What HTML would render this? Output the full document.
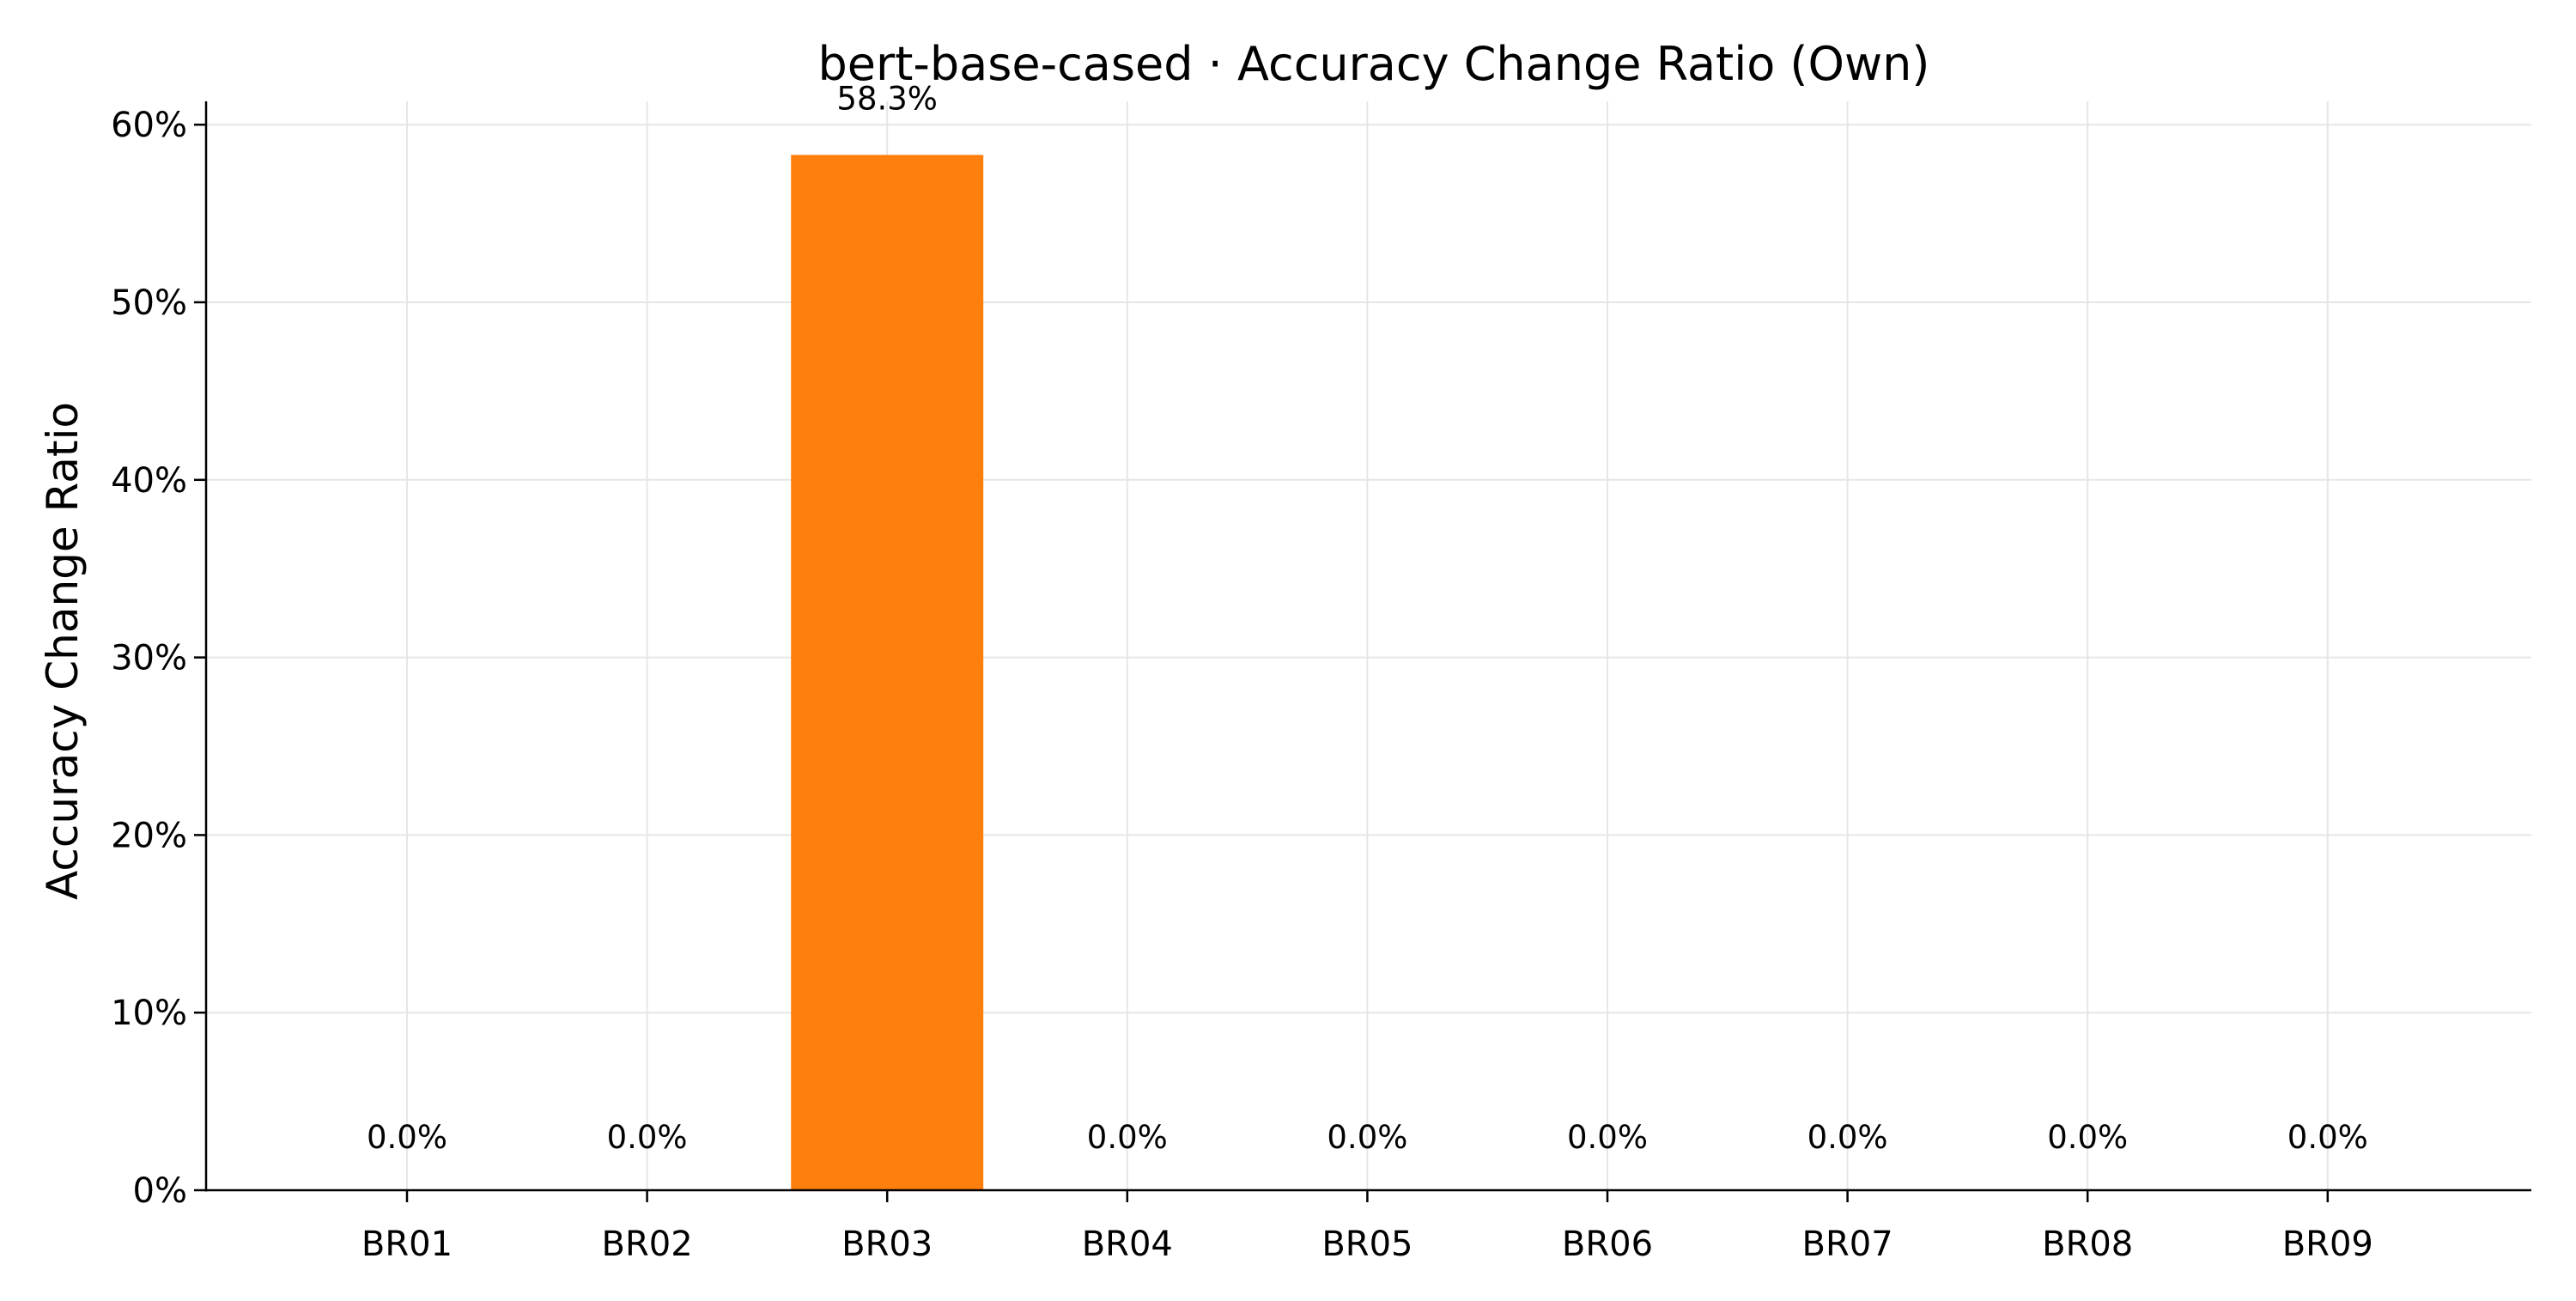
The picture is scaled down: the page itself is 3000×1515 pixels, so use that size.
<!DOCTYPE html>
<html><head><meta charset="utf-8"><style>
html,body{margin:0;padding:0;background:#fff}
svg{display:block;font-family:"DejaVu Sans","Liberation Sans",sans-serif}
</style></head><body>
<svg id="chart" width="3000" height="1515" viewBox="0 0 3000 1515">
<text x="1600" y="93" font-size="54" text-anchor="middle">bert-base-cased · Accuracy Change Ratio (Own)</text>
<text transform="translate(90,758) rotate(-90)" font-size="50" text-anchor="middle">Accuracy Change Ratio</text>
<g id="grid"></g><g id="bars"></g><g id="axes"></g><g id="labels"></g>
</svg>
<script>
const categories=["BR01","BR02","BR03","BR04","BR05","BR06","BR07","BR08","BR09"];
const values=[0,0,58.3,0,0,0,0,0,0];
const yTicks=[0,10,20,30,40,50,60];
const NS="http://www.w3.org/2000/svg";
const x0=240,x1=2948,yTop=118,yBase=1386;
function xs(i){return 474+i*279.6;}
function ys(v){return yBase-v*20.68;}
function mk(parent,tag,attrs,text){const e=document.createElementNS(NS,tag);for(const k in attrs)e.setAttribute(k,attrs[k]);if(text!==undefined)e.textContent=text;document.getElementById(parent).appendChild(e);return e;}
yTicks.forEach(t=>{
 const g=mk('grid','line',{x1:x0,x2:x1,y1:ys(t),y2:ys(t),stroke:'#e6e6e6','stroke-width':2});
 
 
 const tk=mk('axes','line',{x1:x0-14,x2:x0,y1:ys(t),y2:ys(t),stroke:'#000','stroke-width':2.5});
 
 
 const l=mk('labels','text',{x:x0-22,y:ys(t)+14,'font-size':40,'text-anchor':'end'},t+'%');
 
 
});
categories.forEach((c,i)=>{
 const g=mk('grid','line',{x1:xs(i),x2:xs(i),y1:yTop,y2:yBase,stroke:'#e6e6e6','stroke-width':2});
 
 
 const v=values[i];
 const b=mk('bars','rect',{x:xs(i)-112,width:224,y:ys(v),height:yBase-ys(v),fill:'#ff7f0e'});
 
 
 const vl=mk('labels','text',{x:xs(i),y:0,'font-size':37,'text-anchor':'middle'},v.toFixed(1)+'%');
 vl.setAttribute('y', v>0? ys(v)-53 : yBase-49);
 
 
 const tk=mk('axes','line',{x1:xs(i),x2:xs(i),y1:yBase,y2:yBase+14,stroke:'#000','stroke-width':2.5});
 
 
 const l=mk('labels','text',{x:xs(i),y:1462,'font-size':40,'text-anchor':'middle'},c);
 
 
});
const ya=mk('axes','line',{x1:x0,x2:x0,y1:yTop,y2:yBase+1.5,stroke:'#000','stroke-width':2.5});


const xa=mk('axes','line',{x1:x0,x2:x1,y1:yBase,y2:yBase,stroke:'#000','stroke-width':2.5});


</script>
</body></html>
